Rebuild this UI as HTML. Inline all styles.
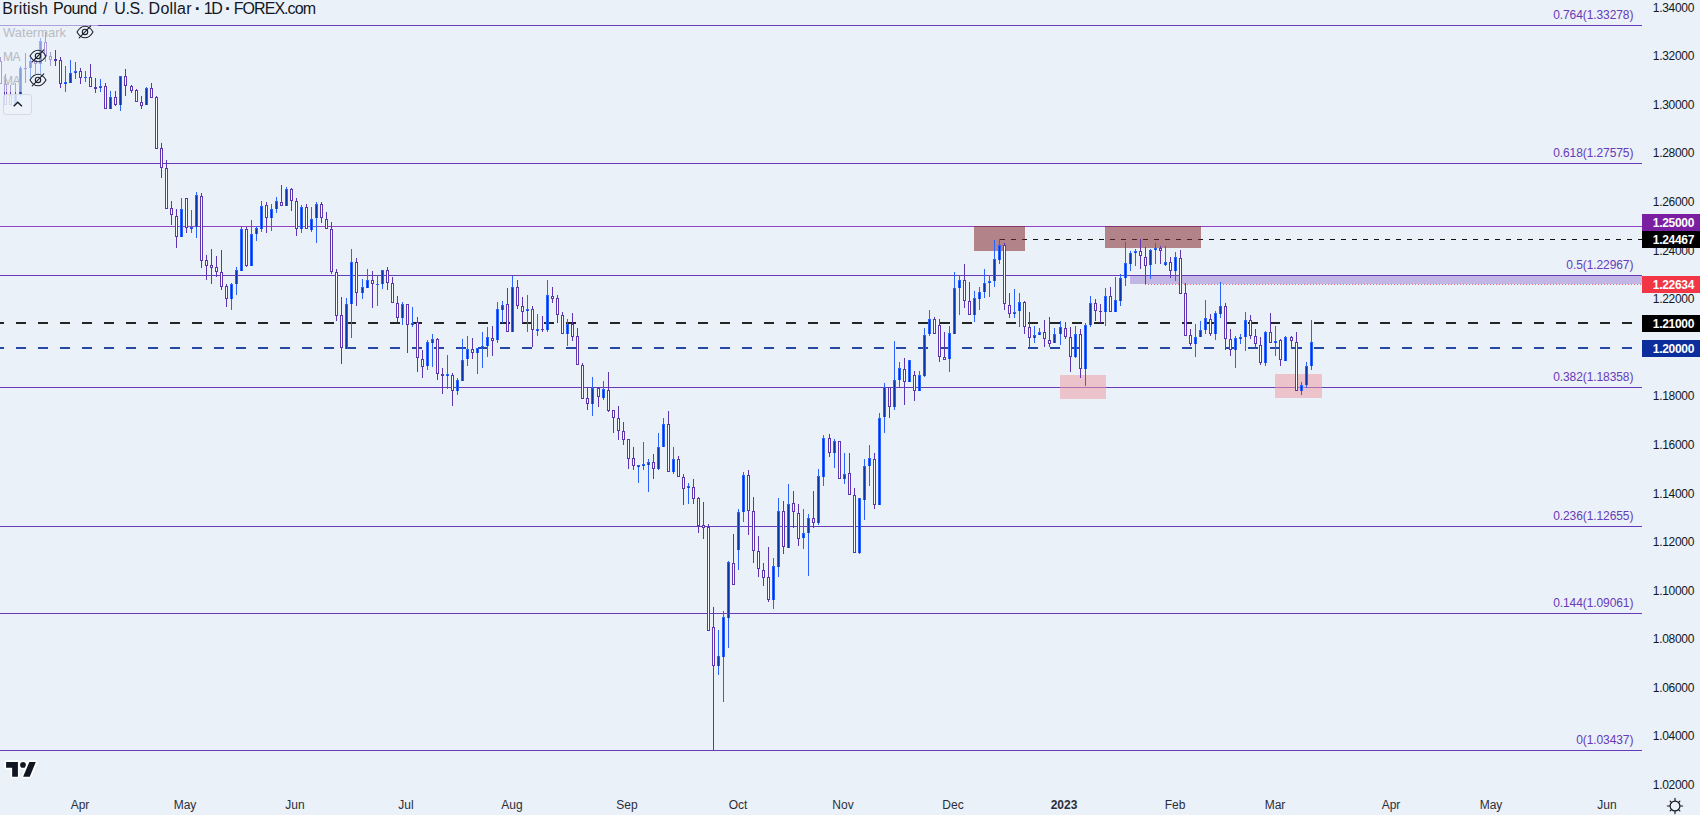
<!DOCTYPE html><html><head><meta charset="utf-8"><title>GBPUSD</title><style>
html,body{margin:0;padding:0}
body{width:1700px;height:815px;overflow:hidden;background:#eaf1f9;font-family:"Liberation Sans",sans-serif;position:relative;color:#131722}
.t{position:absolute;white-space:nowrap;line-height:1}
.fib{color:#673ab7;font-size:12px;text-align:right;width:200px;left:1433.300px;letter-spacing:-0.09px}
.ax{font-size:12px;left:1652.800px;color:#131722;letter-spacing:-0.3px}
.lab{position:absolute;left:1642px;width:58px;height:17px;color:#fff;font-size:12px;font-weight:bold;line-height:18.600px;text-indent:10.800px;overflow:hidden;letter-spacing:-0.3px}
.tm{font-size:12px;transform:translateX(-50%);top:798.8px;color:#2a2e39}
.lg{color:#b9bcc4;font-size:13px}
.lg2{font-size:12px;letter-spacing:-0.6px;color:#b4b7bf}

</style></head><body>
<svg width="1700" height="815" viewBox="0 0 1700 815" shape-rendering="crispEdges" style="position:absolute;left:0;top:0">
<rect x="1130" y="276" width="570" height="8" fill="#c2b6e4"/>
<line x1="1145" y1="284.5" x2="1700" y2="284.5" stroke="#f23645" stroke-width="1" stroke-dasharray="1 2" opacity="0.75"/>
<rect x="0" y="25" width="1642" height="1" fill="#673ab7"/>
<rect x="0" y="163" width="1642" height="1" fill="#673ab7"/>
<rect x="0" y="275" width="1642" height="1" fill="#673ab7"/>
<rect x="0" y="387" width="1642" height="1" fill="#673ab7"/>
<rect x="0" y="526" width="1642" height="1" fill="#673ab7"/>
<rect x="0" y="613" width="1642" height="1" fill="#673ab7"/>
<rect x="0" y="750" width="1642" height="1" fill="#673ab7"/>
<rect x="0" y="226" width="1642" height="1" fill="#9242c8"/>
<path d="M1000 239h5v1h-5zM1011 239h5v1h-5zM1022 239h5v1h-5zM1033 239h5v1h-5zM1044 239h5v1h-5zM1055 239h5v1h-5zM1066 239h5v1h-5zM1077 239h5v1h-5zM1088 239h5v1h-5zM1099 239h5v1h-5zM1110 239h5v1h-5zM1121 239h5v1h-5zM1132 239h5v1h-5zM1143 239h5v1h-5zM1154 239h5v1h-5zM1165 239h5v1h-5zM1176 239h5v1h-5zM1187 239h5v1h-5zM1198 239h5v1h-5zM1209 239h5v1h-5zM1220 239h5v1h-5zM1231 239h5v1h-5zM1242 239h5v1h-5zM1253 239h5v1h-5zM1264 239h5v1h-5zM1275 239h5v1h-5zM1286 239h5v1h-5zM1297 239h5v1h-5zM1308 239h5v1h-5zM1319 239h5v1h-5zM1330 239h5v1h-5zM1341 239h5v1h-5zM1352 239h5v1h-5zM1363 239h5v1h-5zM1374 239h5v1h-5zM1385 239h5v1h-5zM1396 239h5v1h-5zM1407 239h5v1h-5zM1418 239h5v1h-5zM1429 239h5v1h-5zM1440 239h5v1h-5zM1451 239h5v1h-5zM1462 239h5v1h-5zM1473 239h5v1h-5zM1484 239h5v1h-5zM1495 239h5v1h-5zM1506 239h5v1h-5zM1517 239h5v1h-5zM1528 239h5v1h-5zM1539 239h5v1h-5zM1550 239h5v1h-5zM1561 239h5v1h-5zM1572 239h5v1h-5zM1583 239h5v1h-5zM1594 239h5v1h-5zM1605 239h5v1h-5zM1616 239h5v1h-5zM1627 239h5v1h-5zM1638 239h4v1h-4z" fill="#111"/>
<rect x="974" y="226" width="51" height="25" fill="#84292f" fill-opacity="0.55"/>
<rect x="1105" y="226" width="96" height="22" fill="#84292f" fill-opacity="0.55"/>
<rect x="1060" y="375" width="46" height="24" fill="#ec9da5" fill-opacity="0.55"/>
<rect x="1275" y="374" width="47" height="24" fill="#ec9da5" fill-opacity="0.55"/>
<path d="M0 322h4v2h-4zM16 322h10v2h-10zM38 322h10v2h-10zM60 322h10v2h-10zM82 322h10v2h-10zM104 322h10v2h-10zM126 322h10v2h-10zM148 322h10v2h-10zM170 322h10v2h-10zM192 322h10v2h-10zM214 322h10v2h-10zM236 322h10v2h-10zM258 322h10v2h-10zM280 322h10v2h-10zM302 322h10v2h-10zM324 322h10v2h-10zM346 322h10v2h-10zM368 322h10v2h-10zM390 322h10v2h-10zM412 322h10v2h-10zM434 322h10v2h-10zM456 322h10v2h-10zM478 322h10v2h-10zM500 322h10v2h-10zM522 322h10v2h-10zM544 322h10v2h-10zM566 322h10v2h-10zM588 322h10v2h-10zM610 322h10v2h-10zM632 322h10v2h-10zM654 322h10v2h-10zM676 322h10v2h-10zM698 322h10v2h-10zM720 322h10v2h-10zM742 322h10v2h-10zM764 322h10v2h-10zM786 322h10v2h-10zM808 322h10v2h-10zM830 322h10v2h-10zM852 322h10v2h-10zM874 322h10v2h-10zM896 322h10v2h-10zM918 322h10v2h-10zM940 322h10v2h-10zM962 322h10v2h-10zM984 322h10v2h-10zM1006 322h10v2h-10zM1028 322h10v2h-10zM1050 322h10v2h-10zM1072 322h10v2h-10zM1094 322h10v2h-10zM1116 322h10v2h-10zM1138 322h10v2h-10zM1160 322h10v2h-10zM1182 322h10v2h-10zM1204 322h10v2h-10zM1226 322h10v2h-10zM1248 322h10v2h-10zM1270 322h10v2h-10zM1292 322h10v2h-10zM1314 322h10v2h-10zM1336 322h10v2h-10zM1358 322h10v2h-10zM1380 322h10v2h-10zM1402 322h10v2h-10zM1424 322h10v2h-10zM1446 322h10v2h-10zM1468 322h10v2h-10zM1490 322h10v2h-10zM1512 322h10v2h-10zM1534 322h10v2h-10zM1556 322h10v2h-10zM1578 322h10v2h-10zM1600 322h10v2h-10zM1622 322h10v2h-10z" fill="#242424"/>
<path d="M0 347h4v2h-4zM16 347h10v2h-10zM38 347h10v2h-10zM60 347h10v2h-10zM82 347h10v2h-10zM104 347h10v2h-10zM126 347h10v2h-10zM148 347h10v2h-10zM170 347h10v2h-10zM192 347h10v2h-10zM214 347h10v2h-10zM236 347h10v2h-10zM258 347h10v2h-10zM280 347h10v2h-10zM302 347h10v2h-10zM324 347h10v2h-10zM346 347h10v2h-10zM368 347h10v2h-10zM390 347h10v2h-10zM412 347h10v2h-10zM434 347h10v2h-10zM456 347h10v2h-10zM478 347h10v2h-10zM500 347h10v2h-10zM522 347h10v2h-10zM544 347h10v2h-10zM566 347h10v2h-10zM588 347h10v2h-10zM610 347h10v2h-10zM632 347h10v2h-10zM654 347h10v2h-10zM676 347h10v2h-10zM698 347h10v2h-10zM720 347h10v2h-10zM742 347h10v2h-10zM764 347h10v2h-10zM786 347h10v2h-10zM808 347h10v2h-10zM830 347h10v2h-10zM852 347h10v2h-10zM874 347h10v2h-10zM896 347h10v2h-10zM918 347h10v2h-10zM940 347h10v2h-10zM962 347h10v2h-10zM984 347h10v2h-10zM1006 347h10v2h-10zM1028 347h10v2h-10zM1050 347h10v2h-10zM1072 347h10v2h-10zM1094 347h10v2h-10zM1116 347h10v2h-10zM1138 347h10v2h-10zM1160 347h10v2h-10zM1182 347h10v2h-10zM1204 347h10v2h-10zM1226 347h10v2h-10zM1248 347h10v2h-10zM1270 347h10v2h-10zM1292 347h10v2h-10zM1314 347h10v2h-10zM1336 347h10v2h-10zM1358 347h10v2h-10zM1380 347h10v2h-10zM1402 347h10v2h-10zM1424 347h10v2h-10zM1446 347h10v2h-10zM1468 347h10v2h-10zM1490 347h10v2h-10zM1512 347h10v2h-10zM1534 347h10v2h-10zM1556 347h10v2h-10zM1578 347h10v2h-10zM1600 347h10v2h-10zM1622 347h10v2h-10z" fill="#2548a2"/>
<rect x="0" y="57" width="1" height="27" fill="#5e35b1"/>
<rect x="-1" y="61" width="3" height="23" fill="#5e35b1"/>
<rect x="0" y="62" width="1" height="21" fill="#fbfcff"/>
<rect x="5" y="74" width="1" height="31" fill="#5e35b1"/>
<rect x="4" y="84" width="3" height="21" fill="#5e35b1"/>
<rect x="5" y="85" width="1" height="19" fill="#fbfcff"/>
<rect x="10" y="85" width="1" height="20" fill="#5e35b1"/>
<rect x="9" y="95" width="3" height="10" fill="#5e35b1"/>
<rect x="10" y="96" width="1" height="8" fill="#fbfcff"/>
<rect x="15" y="83" width="1" height="21" fill="#2962ff"/>
<rect x="14" y="95" width="3" height="9" fill="#2962ff"/>
<rect x="15" y="96" width="1" height="8" fill="#0c35a8"/>
<rect x="20" y="66" width="1" height="31" fill="#2962ff"/>
<rect x="19" y="68" width="3" height="26" fill="#2962ff"/>
<rect x="20" y="69" width="1" height="25" fill="#0c35a8"/>
<rect x="25" y="53" width="1" height="30" fill="#5e35b1"/>
<rect x="24" y="68" width="3" height="1" fill="#5e35b1"/>
<rect x="30" y="57" width="1" height="21" fill="#2962ff"/>
<rect x="29" y="61" width="3" height="7" fill="#2962ff"/>
<rect x="30" y="62" width="1" height="6" fill="#0c35a8"/>
<rect x="35" y="57" width="1" height="17" fill="#5e35b1"/>
<rect x="34" y="60" width="3" height="4" fill="#5e35b1"/>
<rect x="35" y="61" width="1" height="2" fill="#fbfcff"/>
<rect x="40" y="38" width="1" height="36" fill="#2962ff"/>
<rect x="39" y="41" width="3" height="23" fill="#2962ff"/>
<rect x="40" y="42" width="1" height="22" fill="#0c35a8"/>
<rect x="45" y="32" width="1" height="30" fill="#5e35b1"/>
<rect x="44" y="42" width="3" height="14" fill="#5e35b1"/>
<rect x="45" y="43" width="1" height="12" fill="#fbfcff"/>
<rect x="50" y="52" width="1" height="14" fill="#5e35b1"/>
<rect x="49" y="56" width="3" height="4" fill="#5e35b1"/>
<rect x="50" y="57" width="1" height="2" fill="#fbfcff"/>
<rect x="55" y="50" width="1" height="16" fill="#5e35b1"/>
<rect x="54" y="59" width="3" height="2" fill="#5e35b1"/>
<rect x="60" y="57" width="1" height="31" fill="#5e35b1"/>
<rect x="59" y="60" width="3" height="24" fill="#5e35b1"/>
<rect x="60" y="61" width="1" height="22" fill="#fbfcff"/>
<rect x="65" y="66" width="1" height="26" fill="#2962ff"/>
<rect x="64" y="82" width="3" height="2" fill="#2962ff"/>
<rect x="65" y="83" width="1" height="1" fill="#0c35a8"/>
<rect x="70" y="60" width="1" height="23" fill="#2962ff"/>
<rect x="69" y="73" width="3" height="10" fill="#2962ff"/>
<rect x="70" y="74" width="1" height="9" fill="#0c35a8"/>
<rect x="75" y="62" width="1" height="17" fill="#2962ff"/>
<rect x="74" y="71" width="3" height="2" fill="#2962ff"/>
<rect x="75" y="72" width="1" height="1" fill="#0c35a8"/>
<rect x="80" y="68" width="1" height="16" fill="#5e35b1"/>
<rect x="79" y="71" width="3" height="7" fill="#5e35b1"/>
<rect x="80" y="72" width="1" height="5" fill="#fbfcff"/>
<rect x="85" y="71" width="1" height="11" fill="#2962ff"/>
<rect x="84" y="77" width="3" height="1" fill="#2962ff"/>
<rect x="90" y="64" width="1" height="23" fill="#5e35b1"/>
<rect x="89" y="77" width="3" height="10" fill="#5e35b1"/>
<rect x="90" y="78" width="1" height="8" fill="#fbfcff"/>
<rect x="95" y="78" width="1" height="15" fill="#5e35b1"/>
<rect x="94" y="87" width="3" height="2" fill="#5e35b1"/>
<rect x="100" y="79" width="1" height="13" fill="#2962ff"/>
<rect x="99" y="86" width="3" height="2" fill="#2962ff"/>
<rect x="100" y="87" width="1" height="1" fill="#0c35a8"/>
<rect x="105" y="83" width="1" height="26" fill="#5e35b1"/>
<rect x="104" y="86" width="3" height="23" fill="#5e35b1"/>
<rect x="105" y="87" width="1" height="21" fill="#fbfcff"/>
<rect x="110" y="91" width="1" height="18" fill="#2962ff"/>
<rect x="109" y="97" width="3" height="12" fill="#2962ff"/>
<rect x="110" y="98" width="1" height="11" fill="#0c35a8"/>
<rect x="115" y="91" width="1" height="15" fill="#5e35b1"/>
<rect x="114" y="97" width="3" height="8" fill="#5e35b1"/>
<rect x="115" y="98" width="1" height="6" fill="#fbfcff"/>
<rect x="120" y="76" width="1" height="35" fill="#2962ff"/>
<rect x="119" y="76" width="3" height="29" fill="#2962ff"/>
<rect x="120" y="77" width="1" height="28" fill="#0c35a8"/>
<rect x="125" y="69" width="1" height="27" fill="#5e35b1"/>
<rect x="124" y="76" width="3" height="10" fill="#5e35b1"/>
<rect x="125" y="77" width="1" height="8" fill="#fbfcff"/>
<rect x="131" y="85" width="1" height="8" fill="#5e35b1"/>
<rect x="130" y="86" width="3" height="5" fill="#5e35b1"/>
<rect x="131" y="87" width="1" height="3" fill="#fbfcff"/>
<rect x="136" y="89" width="1" height="13" fill="#5e35b1"/>
<rect x="135" y="90" width="3" height="12" fill="#5e35b1"/>
<rect x="136" y="91" width="1" height="10" fill="#fbfcff"/>
<rect x="141" y="96" width="1" height="13" fill="#5e35b1"/>
<rect x="140" y="102" width="3" height="4" fill="#5e35b1"/>
<rect x="141" y="103" width="1" height="2" fill="#fbfcff"/>
<rect x="146" y="87" width="1" height="18" fill="#2962ff"/>
<rect x="145" y="88" width="3" height="17" fill="#2962ff"/>
<rect x="146" y="89" width="1" height="16" fill="#0c35a8"/>
<rect x="151" y="83" width="1" height="15" fill="#5e35b1"/>
<rect x="150" y="88" width="3" height="10" fill="#5e35b1"/>
<rect x="151" y="89" width="1" height="8" fill="#fbfcff"/>
<rect x="156" y="96" width="1" height="53" fill="#5e35b1"/>
<rect x="155" y="97" width="3" height="52" fill="#5e35b1"/>
<rect x="156" y="98" width="1" height="50" fill="#fbfcff"/>
<rect x="161" y="143" width="1" height="35" fill="#5e35b1"/>
<rect x="160" y="148" width="3" height="20" fill="#5e35b1"/>
<rect x="161" y="149" width="1" height="18" fill="#fbfcff"/>
<rect x="166" y="160" width="1" height="49" fill="#5e35b1"/>
<rect x="165" y="168" width="3" height="41" fill="#5e35b1"/>
<rect x="166" y="169" width="1" height="39" fill="#fbfcff"/>
<rect x="171" y="201" width="1" height="24" fill="#5e35b1"/>
<rect x="170" y="208" width="3" height="7" fill="#5e35b1"/>
<rect x="171" y="209" width="1" height="5" fill="#fbfcff"/>
<rect x="176" y="209" width="1" height="39" fill="#5e35b1"/>
<rect x="175" y="216" width="3" height="21" fill="#5e35b1"/>
<rect x="176" y="217" width="1" height="19" fill="#fbfcff"/>
<rect x="181" y="198" width="1" height="39" fill="#2962ff"/>
<rect x="180" y="209" width="3" height="28" fill="#2962ff"/>
<rect x="181" y="210" width="1" height="27" fill="#0c35a8"/>
<rect x="186" y="198" width="1" height="35" fill="#5e35b1"/>
<rect x="185" y="198" width="3" height="30" fill="#5e35b1"/>
<rect x="186" y="199" width="1" height="28" fill="#fbfcff"/>
<rect x="191" y="210" width="1" height="23" fill="#2962ff"/>
<rect x="190" y="227" width="3" height="2" fill="#2962ff"/>
<rect x="191" y="228" width="1" height="1" fill="#0c35a8"/>
<rect x="196" y="192" width="1" height="46" fill="#2962ff"/>
<rect x="195" y="195" width="3" height="32" fill="#2962ff"/>
<rect x="196" y="196" width="1" height="31" fill="#0c35a8"/>
<rect x="201" y="193" width="1" height="75" fill="#5e35b1"/>
<rect x="200" y="196" width="3" height="65" fill="#5e35b1"/>
<rect x="201" y="197" width="1" height="63" fill="#fbfcff"/>
<rect x="206" y="255" width="1" height="25" fill="#5e35b1"/>
<rect x="205" y="260" width="3" height="6" fill="#5e35b1"/>
<rect x="206" y="261" width="1" height="4" fill="#fbfcff"/>
<rect x="211" y="249" width="1" height="35" fill="#5e35b1"/>
<rect x="210" y="265" width="3" height="3" fill="#5e35b1"/>
<rect x="211" y="266" width="1" height="1" fill="#fbfcff"/>
<rect x="216" y="256" width="1" height="21" fill="#5e35b1"/>
<rect x="215" y="267" width="3" height="5" fill="#5e35b1"/>
<rect x="216" y="268" width="1" height="3" fill="#fbfcff"/>
<rect x="221" y="250" width="1" height="40" fill="#5e35b1"/>
<rect x="220" y="272" width="3" height="15" fill="#5e35b1"/>
<rect x="221" y="273" width="1" height="13" fill="#fbfcff"/>
<rect x="226" y="284" width="1" height="23" fill="#5e35b1"/>
<rect x="225" y="286" width="3" height="13" fill="#5e35b1"/>
<rect x="226" y="287" width="1" height="11" fill="#fbfcff"/>
<rect x="231" y="283" width="1" height="27" fill="#2962ff"/>
<rect x="230" y="284" width="3" height="15" fill="#2962ff"/>
<rect x="231" y="285" width="1" height="14" fill="#0c35a8"/>
<rect x="236" y="267" width="1" height="28" fill="#2962ff"/>
<rect x="235" y="270" width="3" height="14" fill="#2962ff"/>
<rect x="236" y="271" width="1" height="13" fill="#0c35a8"/>
<rect x="241" y="226" width="1" height="45" fill="#2962ff"/>
<rect x="240" y="229" width="3" height="42" fill="#2962ff"/>
<rect x="241" y="230" width="1" height="41" fill="#0c35a8"/>
<rect x="246" y="227" width="1" height="40" fill="#5e35b1"/>
<rect x="245" y="229" width="3" height="37" fill="#5e35b1"/>
<rect x="246" y="230" width="1" height="35" fill="#fbfcff"/>
<rect x="251" y="220" width="1" height="46" fill="#2962ff"/>
<rect x="250" y="234" width="3" height="32" fill="#2962ff"/>
<rect x="251" y="235" width="1" height="31" fill="#0c35a8"/>
<rect x="256" y="226" width="1" height="15" fill="#2962ff"/>
<rect x="255" y="228" width="3" height="6" fill="#2962ff"/>
<rect x="256" y="229" width="1" height="5" fill="#0c35a8"/>
<rect x="261" y="201" width="1" height="31" fill="#2962ff"/>
<rect x="260" y="206" width="3" height="23" fill="#2962ff"/>
<rect x="261" y="207" width="1" height="22" fill="#0c35a8"/>
<rect x="266" y="202" width="1" height="31" fill="#5e35b1"/>
<rect x="265" y="205" width="3" height="13" fill="#5e35b1"/>
<rect x="266" y="206" width="1" height="11" fill="#fbfcff"/>
<rect x="271" y="204" width="1" height="27" fill="#2962ff"/>
<rect x="270" y="209" width="3" height="9" fill="#2962ff"/>
<rect x="271" y="210" width="1" height="8" fill="#0c35a8"/>
<rect x="276" y="197" width="1" height="16" fill="#2962ff"/>
<rect x="275" y="201" width="3" height="8" fill="#2962ff"/>
<rect x="276" y="202" width="1" height="7" fill="#0c35a8"/>
<rect x="281" y="185" width="1" height="21" fill="#5e35b1"/>
<rect x="280" y="202" width="3" height="4" fill="#5e35b1"/>
<rect x="281" y="203" width="1" height="2" fill="#fbfcff"/>
<rect x="286" y="187" width="1" height="19" fill="#2962ff"/>
<rect x="285" y="189" width="3" height="17" fill="#2962ff"/>
<rect x="286" y="190" width="1" height="16" fill="#0c35a8"/>
<rect x="291" y="188" width="1" height="23" fill="#5e35b1"/>
<rect x="290" y="189" width="3" height="12" fill="#5e35b1"/>
<rect x="291" y="190" width="1" height="10" fill="#fbfcff"/>
<rect x="296" y="198" width="1" height="38" fill="#5e35b1"/>
<rect x="295" y="201" width="3" height="28" fill="#5e35b1"/>
<rect x="296" y="202" width="1" height="26" fill="#fbfcff"/>
<rect x="301" y="205" width="1" height="28" fill="#2962ff"/>
<rect x="300" y="207" width="3" height="22" fill="#2962ff"/>
<rect x="301" y="208" width="1" height="21" fill="#0c35a8"/>
<rect x="306" y="204" width="1" height="25" fill="#5e35b1"/>
<rect x="305" y="207" width="3" height="22" fill="#5e35b1"/>
<rect x="306" y="208" width="1" height="20" fill="#fbfcff"/>
<rect x="311" y="207" width="1" height="25" fill="#2962ff"/>
<rect x="310" y="219" width="3" height="11" fill="#2962ff"/>
<rect x="311" y="220" width="1" height="10" fill="#0c35a8"/>
<rect x="316" y="202" width="1" height="41" fill="#2962ff"/>
<rect x="315" y="204" width="3" height="14" fill="#2962ff"/>
<rect x="316" y="205" width="1" height="13" fill="#0c35a8"/>
<rect x="321" y="202" width="1" height="21" fill="#5e35b1"/>
<rect x="320" y="204" width="3" height="14" fill="#5e35b1"/>
<rect x="321" y="205" width="1" height="12" fill="#fbfcff"/>
<rect x="326" y="212" width="1" height="17" fill="#5e35b1"/>
<rect x="325" y="219" width="3" height="10" fill="#5e35b1"/>
<rect x="326" y="220" width="1" height="8" fill="#fbfcff"/>
<rect x="331" y="222" width="1" height="52" fill="#5e35b1"/>
<rect x="330" y="229" width="3" height="43" fill="#5e35b1"/>
<rect x="331" y="230" width="1" height="41" fill="#fbfcff"/>
<rect x="336" y="269" width="1" height="52" fill="#5e35b1"/>
<rect x="335" y="272" width="3" height="44" fill="#5e35b1"/>
<rect x="336" y="273" width="1" height="42" fill="#fbfcff"/>
<rect x="341" y="297" width="1" height="67" fill="#5e35b1"/>
<rect x="340" y="315" width="3" height="33" fill="#5e35b1"/>
<rect x="341" y="316" width="1" height="31" fill="#fbfcff"/>
<rect x="346" y="298" width="1" height="51" fill="#2962ff"/>
<rect x="345" y="304" width="3" height="45" fill="#2962ff"/>
<rect x="346" y="305" width="1" height="44" fill="#0c35a8"/>
<rect x="351" y="249" width="1" height="89" fill="#2962ff"/>
<rect x="350" y="262" width="3" height="42" fill="#2962ff"/>
<rect x="351" y="263" width="1" height="41" fill="#0c35a8"/>
<rect x="356" y="258" width="1" height="48" fill="#5e35b1"/>
<rect x="355" y="262" width="3" height="31" fill="#5e35b1"/>
<rect x="356" y="263" width="1" height="29" fill="#fbfcff"/>
<rect x="362" y="279" width="1" height="20" fill="#2962ff"/>
<rect x="361" y="287" width="3" height="6" fill="#2962ff"/>
<rect x="362" y="288" width="1" height="5" fill="#0c35a8"/>
<rect x="367" y="269" width="1" height="19" fill="#2962ff"/>
<rect x="366" y="280" width="3" height="8" fill="#2962ff"/>
<rect x="367" y="281" width="1" height="7" fill="#0c35a8"/>
<rect x="372" y="271" width="1" height="37" fill="#5e35b1"/>
<rect x="371" y="280" width="3" height="4" fill="#5e35b1"/>
<rect x="372" y="281" width="1" height="2" fill="#fbfcff"/>
<rect x="377" y="276" width="1" height="30" fill="#2962ff"/>
<rect x="376" y="284" width="3" height="1" fill="#2962ff"/>
<rect x="382" y="270" width="1" height="19" fill="#2962ff"/>
<rect x="381" y="270" width="3" height="14" fill="#2962ff"/>
<rect x="382" y="271" width="1" height="13" fill="#0c35a8"/>
<rect x="387" y="267" width="1" height="23" fill="#5e35b1"/>
<rect x="386" y="270" width="3" height="13" fill="#5e35b1"/>
<rect x="387" y="271" width="1" height="11" fill="#fbfcff"/>
<rect x="392" y="277" width="1" height="26" fill="#5e35b1"/>
<rect x="391" y="283" width="3" height="20" fill="#5e35b1"/>
<rect x="392" y="284" width="1" height="18" fill="#fbfcff"/>
<rect x="397" y="296" width="1" height="26" fill="#5e35b1"/>
<rect x="396" y="303" width="3" height="15" fill="#5e35b1"/>
<rect x="397" y="304" width="1" height="13" fill="#fbfcff"/>
<rect x="402" y="302" width="1" height="23" fill="#2962ff"/>
<rect x="401" y="304" width="3" height="14" fill="#2962ff"/>
<rect x="402" y="305" width="1" height="13" fill="#0c35a8"/>
<rect x="407" y="304" width="1" height="49" fill="#5e35b1"/>
<rect x="406" y="304" width="3" height="21" fill="#5e35b1"/>
<rect x="407" y="305" width="1" height="19" fill="#fbfcff"/>
<rect x="412" y="307" width="1" height="20" fill="#2962ff"/>
<rect x="411" y="323" width="3" height="2" fill="#2962ff"/>
<rect x="412" y="324" width="1" height="1" fill="#0c35a8"/>
<rect x="417" y="317" width="1" height="55" fill="#5e35b1"/>
<rect x="416" y="322" width="3" height="36" fill="#5e35b1"/>
<rect x="417" y="323" width="1" height="34" fill="#fbfcff"/>
<rect x="422" y="350" width="1" height="28" fill="#5e35b1"/>
<rect x="421" y="359" width="3" height="8" fill="#5e35b1"/>
<rect x="422" y="360" width="1" height="6" fill="#fbfcff"/>
<rect x="427" y="340" width="1" height="30" fill="#2962ff"/>
<rect x="426" y="342" width="3" height="24" fill="#2962ff"/>
<rect x="427" y="343" width="1" height="23" fill="#0c35a8"/>
<rect x="432" y="334" width="1" height="33" fill="#2962ff"/>
<rect x="431" y="339" width="3" height="4" fill="#2962ff"/>
<rect x="432" y="340" width="1" height="3" fill="#0c35a8"/>
<rect x="437" y="338" width="1" height="42" fill="#5e35b1"/>
<rect x="436" y="339" width="3" height="35" fill="#5e35b1"/>
<rect x="437" y="340" width="1" height="33" fill="#fbfcff"/>
<rect x="442" y="368" width="1" height="26" fill="#5e35b1"/>
<rect x="441" y="374" width="3" height="2" fill="#5e35b1"/>
<rect x="447" y="355" width="1" height="34" fill="#2962ff"/>
<rect x="446" y="374" width="3" height="2" fill="#2962ff"/>
<rect x="447" y="375" width="1" height="1" fill="#0c35a8"/>
<rect x="452" y="373" width="1" height="33" fill="#5e35b1"/>
<rect x="451" y="375" width="3" height="16" fill="#5e35b1"/>
<rect x="452" y="376" width="1" height="14" fill="#fbfcff"/>
<rect x="457" y="378" width="1" height="17" fill="#2962ff"/>
<rect x="456" y="380" width="3" height="11" fill="#2962ff"/>
<rect x="457" y="381" width="1" height="10" fill="#0c35a8"/>
<rect x="462" y="339" width="1" height="42" fill="#2962ff"/>
<rect x="461" y="360" width="3" height="21" fill="#2962ff"/>
<rect x="462" y="361" width="1" height="20" fill="#0c35a8"/>
<rect x="467" y="336" width="1" height="30" fill="#2962ff"/>
<rect x="466" y="349" width="3" height="10" fill="#2962ff"/>
<rect x="467" y="350" width="1" height="9" fill="#0c35a8"/>
<rect x="472" y="338" width="1" height="21" fill="#5e35b1"/>
<rect x="471" y="349" width="3" height="4" fill="#5e35b1"/>
<rect x="472" y="350" width="1" height="2" fill="#fbfcff"/>
<rect x="477" y="348" width="1" height="26" fill="#2962ff"/>
<rect x="476" y="348" width="3" height="5" fill="#2962ff"/>
<rect x="477" y="349" width="1" height="4" fill="#0c35a8"/>
<rect x="482" y="332" width="1" height="36" fill="#2962ff"/>
<rect x="481" y="346" width="3" height="2" fill="#2962ff"/>
<rect x="482" y="347" width="1" height="1" fill="#0c35a8"/>
<rect x="487" y="327" width="1" height="30" fill="#2962ff"/>
<rect x="486" y="337" width="3" height="9" fill="#2962ff"/>
<rect x="487" y="338" width="1" height="8" fill="#0c35a8"/>
<rect x="492" y="326" width="1" height="30" fill="#5e35b1"/>
<rect x="491" y="338" width="3" height="3" fill="#5e35b1"/>
<rect x="492" y="339" width="1" height="1" fill="#fbfcff"/>
<rect x="497" y="302" width="1" height="41" fill="#2962ff"/>
<rect x="496" y="309" width="3" height="31" fill="#2962ff"/>
<rect x="497" y="310" width="1" height="30" fill="#0c35a8"/>
<rect x="502" y="301" width="1" height="22" fill="#2962ff"/>
<rect x="501" y="305" width="3" height="5" fill="#2962ff"/>
<rect x="502" y="306" width="1" height="4" fill="#0c35a8"/>
<rect x="507" y="288" width="1" height="44" fill="#5e35b1"/>
<rect x="506" y="304" width="3" height="28" fill="#5e35b1"/>
<rect x="507" y="305" width="1" height="26" fill="#fbfcff"/>
<rect x="512" y="276" width="1" height="56" fill="#2962ff"/>
<rect x="511" y="287" width="3" height="45" fill="#2962ff"/>
<rect x="512" y="288" width="1" height="44" fill="#0c35a8"/>
<rect x="517" y="280" width="1" height="29" fill="#5e35b1"/>
<rect x="516" y="287" width="3" height="19" fill="#5e35b1"/>
<rect x="517" y="288" width="1" height="17" fill="#fbfcff"/>
<rect x="522" y="297" width="1" height="26" fill="#5e35b1"/>
<rect x="521" y="306" width="3" height="6" fill="#5e35b1"/>
<rect x="522" y="307" width="1" height="4" fill="#fbfcff"/>
<rect x="527" y="295" width="1" height="37" fill="#2962ff"/>
<rect x="526" y="309" width="3" height="2" fill="#2962ff"/>
<rect x="527" y="310" width="1" height="1" fill="#0c35a8"/>
<rect x="532" y="306" width="1" height="41" fill="#5e35b1"/>
<rect x="531" y="309" width="3" height="21" fill="#5e35b1"/>
<rect x="532" y="310" width="1" height="19" fill="#fbfcff"/>
<rect x="537" y="314" width="1" height="22" fill="#2962ff"/>
<rect x="536" y="329" width="3" height="2" fill="#2962ff"/>
<rect x="537" y="330" width="1" height="1" fill="#0c35a8"/>
<rect x="542" y="316" width="1" height="16" fill="#5e35b1"/>
<rect x="541" y="329" width="3" height="1" fill="#5e35b1"/>
<rect x="547" y="280" width="1" height="52" fill="#2962ff"/>
<rect x="546" y="295" width="3" height="35" fill="#2962ff"/>
<rect x="547" y="296" width="1" height="34" fill="#0c35a8"/>
<rect x="552" y="287" width="1" height="16" fill="#5e35b1"/>
<rect x="551" y="296" width="3" height="3" fill="#5e35b1"/>
<rect x="552" y="297" width="1" height="1" fill="#fbfcff"/>
<rect x="557" y="295" width="1" height="28" fill="#5e35b1"/>
<rect x="556" y="298" width="3" height="17" fill="#5e35b1"/>
<rect x="557" y="299" width="1" height="15" fill="#fbfcff"/>
<rect x="562" y="312" width="1" height="22" fill="#5e35b1"/>
<rect x="561" y="315" width="3" height="19" fill="#5e35b1"/>
<rect x="562" y="316" width="1" height="17" fill="#fbfcff"/>
<rect x="567" y="319" width="1" height="27" fill="#2962ff"/>
<rect x="566" y="324" width="3" height="10" fill="#2962ff"/>
<rect x="567" y="325" width="1" height="9" fill="#0c35a8"/>
<rect x="572" y="313" width="1" height="28" fill="#5e35b1"/>
<rect x="571" y="324" width="3" height="13" fill="#5e35b1"/>
<rect x="572" y="325" width="1" height="11" fill="#fbfcff"/>
<rect x="577" y="328" width="1" height="37" fill="#5e35b1"/>
<rect x="576" y="336" width="3" height="29" fill="#5e35b1"/>
<rect x="577" y="337" width="1" height="27" fill="#fbfcff"/>
<rect x="582" y="363" width="1" height="36" fill="#5e35b1"/>
<rect x="581" y="365" width="3" height="34" fill="#5e35b1"/>
<rect x="582" y="366" width="1" height="32" fill="#fbfcff"/>
<rect x="587" y="387" width="1" height="23" fill="#5e35b1"/>
<rect x="586" y="398" width="3" height="6" fill="#5e35b1"/>
<rect x="587" y="399" width="1" height="4" fill="#fbfcff"/>
<rect x="592" y="377" width="1" height="39" fill="#2962ff"/>
<rect x="591" y="388" width="3" height="16" fill="#2962ff"/>
<rect x="592" y="389" width="1" height="15" fill="#0c35a8"/>
<rect x="598" y="387" width="1" height="20" fill="#5e35b1"/>
<rect x="597" y="388" width="3" height="9" fill="#5e35b1"/>
<rect x="598" y="389" width="1" height="7" fill="#fbfcff"/>
<rect x="603" y="381" width="1" height="19" fill="#2962ff"/>
<rect x="602" y="389" width="3" height="9" fill="#2962ff"/>
<rect x="603" y="390" width="1" height="8" fill="#0c35a8"/>
<rect x="608" y="372" width="1" height="40" fill="#5e35b1"/>
<rect x="607" y="390" width="3" height="21" fill="#5e35b1"/>
<rect x="608" y="391" width="1" height="19" fill="#fbfcff"/>
<rect x="613" y="410" width="1" height="23" fill="#5e35b1"/>
<rect x="612" y="410" width="3" height="8" fill="#5e35b1"/>
<rect x="613" y="411" width="1" height="6" fill="#fbfcff"/>
<rect x="618" y="406" width="1" height="34" fill="#5e35b1"/>
<rect x="617" y="418" width="3" height="13" fill="#5e35b1"/>
<rect x="618" y="419" width="1" height="11" fill="#fbfcff"/>
<rect x="623" y="422" width="1" height="23" fill="#5e35b1"/>
<rect x="622" y="431" width="3" height="9" fill="#5e35b1"/>
<rect x="623" y="432" width="1" height="7" fill="#fbfcff"/>
<rect x="628" y="439" width="1" height="30" fill="#5e35b1"/>
<rect x="627" y="439" width="3" height="20" fill="#5e35b1"/>
<rect x="628" y="440" width="1" height="18" fill="#fbfcff"/>
<rect x="633" y="447" width="1" height="23" fill="#5e35b1"/>
<rect x="632" y="458" width="3" height="8" fill="#5e35b1"/>
<rect x="633" y="459" width="1" height="6" fill="#fbfcff"/>
<rect x="638" y="465" width="1" height="18" fill="#2962ff"/>
<rect x="637" y="465" width="3" height="2" fill="#2962ff"/>
<rect x="638" y="466" width="1" height="1" fill="#0c35a8"/>
<rect x="643" y="442" width="1" height="28" fill="#2962ff"/>
<rect x="642" y="464" width="3" height="2" fill="#2962ff"/>
<rect x="643" y="465" width="1" height="1" fill="#0c35a8"/>
<rect x="648" y="459" width="1" height="33" fill="#2962ff"/>
<rect x="647" y="462" width="3" height="3" fill="#2962ff"/>
<rect x="648" y="463" width="1" height="2" fill="#0c35a8"/>
<rect x="653" y="454" width="1" height="25" fill="#5e35b1"/>
<rect x="652" y="462" width="3" height="7" fill="#5e35b1"/>
<rect x="653" y="463" width="1" height="5" fill="#fbfcff"/>
<rect x="658" y="433" width="1" height="37" fill="#2962ff"/>
<rect x="657" y="447" width="3" height="22" fill="#2962ff"/>
<rect x="658" y="448" width="1" height="21" fill="#0c35a8"/>
<rect x="663" y="418" width="1" height="29" fill="#2962ff"/>
<rect x="662" y="424" width="3" height="23" fill="#2962ff"/>
<rect x="663" y="425" width="1" height="22" fill="#0c35a8"/>
<rect x="668" y="411" width="1" height="61" fill="#5e35b1"/>
<rect x="667" y="424" width="3" height="48" fill="#5e35b1"/>
<rect x="668" y="425" width="1" height="46" fill="#fbfcff"/>
<rect x="673" y="447" width="1" height="27" fill="#2962ff"/>
<rect x="672" y="459" width="3" height="13" fill="#2962ff"/>
<rect x="673" y="460" width="1" height="12" fill="#0c35a8"/>
<rect x="678" y="456" width="1" height="21" fill="#5e35b1"/>
<rect x="677" y="459" width="3" height="18" fill="#5e35b1"/>
<rect x="678" y="460" width="1" height="16" fill="#fbfcff"/>
<rect x="683" y="474" width="1" height="31" fill="#5e35b1"/>
<rect x="682" y="477" width="3" height="12" fill="#5e35b1"/>
<rect x="683" y="478" width="1" height="10" fill="#fbfcff"/>
<rect x="688" y="483" width="1" height="21" fill="#2962ff"/>
<rect x="687" y="486" width="3" height="2" fill="#2962ff"/>
<rect x="688" y="487" width="1" height="1" fill="#0c35a8"/>
<rect x="693" y="479" width="1" height="25" fill="#5e35b1"/>
<rect x="692" y="487" width="3" height="12" fill="#5e35b1"/>
<rect x="693" y="488" width="1" height="10" fill="#fbfcff"/>
<rect x="698" y="497" width="1" height="36" fill="#5e35b1"/>
<rect x="697" y="498" width="3" height="28" fill="#5e35b1"/>
<rect x="698" y="499" width="1" height="26" fill="#fbfcff"/>
<rect x="703" y="502" width="1" height="37" fill="#5e35b1"/>
<rect x="702" y="525" width="3" height="3" fill="#5e35b1"/>
<rect x="703" y="526" width="1" height="1" fill="#fbfcff"/>
<rect x="708" y="524" width="1" height="107" fill="#5e35b1"/>
<rect x="707" y="527" width="3" height="104" fill="#5e35b1"/>
<rect x="708" y="528" width="1" height="102" fill="#fbfcff"/>
<rect x="713" y="607" width="1" height="143" fill="#5e35b1"/>
<rect x="712" y="627" width="3" height="39" fill="#5e35b1"/>
<rect x="713" y="628" width="1" height="37" fill="#fbfcff"/>
<rect x="718" y="630" width="1" height="45" fill="#2962ff"/>
<rect x="717" y="656" width="3" height="10" fill="#2962ff"/>
<rect x="718" y="657" width="1" height="9" fill="#0c35a8"/>
<rect x="723" y="611" width="1" height="91" fill="#2962ff"/>
<rect x="722" y="617" width="3" height="40" fill="#2962ff"/>
<rect x="723" y="618" width="1" height="39" fill="#0c35a8"/>
<rect x="728" y="561" width="1" height="87" fill="#2962ff"/>
<rect x="727" y="562" width="3" height="56" fill="#2962ff"/>
<rect x="728" y="563" width="1" height="55" fill="#0c35a8"/>
<rect x="733" y="534" width="1" height="51" fill="#5e35b1"/>
<rect x="732" y="563" width="3" height="22" fill="#5e35b1"/>
<rect x="733" y="564" width="1" height="20" fill="#fbfcff"/>
<rect x="738" y="509" width="1" height="61" fill="#2962ff"/>
<rect x="737" y="512" width="3" height="38" fill="#2962ff"/>
<rect x="738" y="513" width="1" height="37" fill="#0c35a8"/>
<rect x="743" y="472" width="1" height="50" fill="#2962ff"/>
<rect x="742" y="475" width="3" height="37" fill="#2962ff"/>
<rect x="743" y="476" width="1" height="36" fill="#0c35a8"/>
<rect x="748" y="470" width="1" height="65" fill="#5e35b1"/>
<rect x="747" y="475" width="3" height="36" fill="#5e35b1"/>
<rect x="748" y="476" width="1" height="34" fill="#fbfcff"/>
<rect x="753" y="497" width="1" height="66" fill="#5e35b1"/>
<rect x="752" y="511" width="3" height="40" fill="#5e35b1"/>
<rect x="753" y="512" width="1" height="38" fill="#fbfcff"/>
<rect x="758" y="536" width="1" height="41" fill="#5e35b1"/>
<rect x="757" y="551" width="3" height="18" fill="#5e35b1"/>
<rect x="758" y="552" width="1" height="16" fill="#fbfcff"/>
<rect x="763" y="563" width="1" height="23" fill="#5e35b1"/>
<rect x="762" y="570" width="3" height="8" fill="#5e35b1"/>
<rect x="763" y="571" width="1" height="6" fill="#fbfcff"/>
<rect x="768" y="547" width="1" height="55" fill="#5e35b1"/>
<rect x="767" y="577" width="3" height="23" fill="#5e35b1"/>
<rect x="768" y="578" width="1" height="21" fill="#fbfcff"/>
<rect x="773" y="558" width="1" height="51" fill="#2962ff"/>
<rect x="772" y="566" width="3" height="34" fill="#2962ff"/>
<rect x="773" y="567" width="1" height="33" fill="#0c35a8"/>
<rect x="778" y="498" width="1" height="79" fill="#2962ff"/>
<rect x="777" y="511" width="3" height="56" fill="#2962ff"/>
<rect x="778" y="512" width="1" height="55" fill="#0c35a8"/>
<rect x="783" y="501" width="1" height="53" fill="#5e35b1"/>
<rect x="782" y="511" width="3" height="36" fill="#5e35b1"/>
<rect x="783" y="512" width="1" height="34" fill="#fbfcff"/>
<rect x="788" y="484" width="1" height="64" fill="#2962ff"/>
<rect x="787" y="504" width="3" height="44" fill="#2962ff"/>
<rect x="788" y="505" width="1" height="43" fill="#0c35a8"/>
<rect x="793" y="491" width="1" height="37" fill="#5e35b1"/>
<rect x="792" y="503" width="3" height="9" fill="#5e35b1"/>
<rect x="793" y="504" width="1" height="7" fill="#fbfcff"/>
<rect x="798" y="504" width="1" height="42" fill="#5e35b1"/>
<rect x="797" y="513" width="3" height="26" fill="#5e35b1"/>
<rect x="798" y="514" width="1" height="24" fill="#fbfcff"/>
<rect x="803" y="509" width="1" height="40" fill="#2962ff"/>
<rect x="802" y="533" width="3" height="5" fill="#2962ff"/>
<rect x="803" y="534" width="1" height="4" fill="#0c35a8"/>
<rect x="808" y="514" width="1" height="62" fill="#2962ff"/>
<rect x="807" y="518" width="3" height="15" fill="#2962ff"/>
<rect x="808" y="519" width="1" height="14" fill="#0c35a8"/>
<rect x="813" y="491" width="1" height="37" fill="#5e35b1"/>
<rect x="812" y="518" width="3" height="5" fill="#5e35b1"/>
<rect x="813" y="519" width="1" height="3" fill="#fbfcff"/>
<rect x="818" y="469" width="1" height="56" fill="#2962ff"/>
<rect x="817" y="476" width="3" height="47" fill="#2962ff"/>
<rect x="818" y="477" width="1" height="46" fill="#0c35a8"/>
<rect x="823" y="435" width="1" height="51" fill="#2962ff"/>
<rect x="822" y="438" width="3" height="39" fill="#2962ff"/>
<rect x="823" y="439" width="1" height="38" fill="#0c35a8"/>
<rect x="829" y="434" width="1" height="23" fill="#5e35b1"/>
<rect x="828" y="438" width="3" height="15" fill="#5e35b1"/>
<rect x="829" y="439" width="1" height="13" fill="#fbfcff"/>
<rect x="834" y="439" width="1" height="29" fill="#2962ff"/>
<rect x="833" y="441" width="3" height="12" fill="#2962ff"/>
<rect x="834" y="442" width="1" height="11" fill="#0c35a8"/>
<rect x="839" y="441" width="1" height="38" fill="#5e35b1"/>
<rect x="838" y="441" width="3" height="38" fill="#5e35b1"/>
<rect x="839" y="442" width="1" height="36" fill="#fbfcff"/>
<rect x="844" y="453" width="1" height="31" fill="#2962ff"/>
<rect x="843" y="474" width="3" height="5" fill="#2962ff"/>
<rect x="844" y="475" width="1" height="4" fill="#0c35a8"/>
<rect x="849" y="453" width="1" height="42" fill="#5e35b1"/>
<rect x="848" y="473" width="3" height="22" fill="#5e35b1"/>
<rect x="849" y="474" width="1" height="20" fill="#fbfcff"/>
<rect x="854" y="488" width="1" height="65" fill="#5e35b1"/>
<rect x="853" y="495" width="3" height="58" fill="#5e35b1"/>
<rect x="854" y="496" width="1" height="56" fill="#fbfcff"/>
<rect x="859" y="498" width="1" height="56" fill="#2962ff"/>
<rect x="858" y="498" width="3" height="55" fill="#2962ff"/>
<rect x="859" y="499" width="1" height="54" fill="#0c35a8"/>
<rect x="864" y="459" width="1" height="61" fill="#2962ff"/>
<rect x="863" y="466" width="3" height="34" fill="#2962ff"/>
<rect x="864" y="467" width="1" height="33" fill="#0c35a8"/>
<rect x="869" y="445" width="1" height="41" fill="#2962ff"/>
<rect x="868" y="458" width="3" height="8" fill="#2962ff"/>
<rect x="869" y="459" width="1" height="7" fill="#0c35a8"/>
<rect x="874" y="453" width="1" height="56" fill="#5e35b1"/>
<rect x="873" y="459" width="3" height="46" fill="#5e35b1"/>
<rect x="874" y="460" width="1" height="44" fill="#fbfcff"/>
<rect x="879" y="413" width="1" height="92" fill="#2962ff"/>
<rect x="878" y="418" width="3" height="87" fill="#2962ff"/>
<rect x="879" y="419" width="1" height="86" fill="#0c35a8"/>
<rect x="884" y="383" width="1" height="50" fill="#2962ff"/>
<rect x="883" y="387" width="3" height="30" fill="#2962ff"/>
<rect x="884" y="388" width="1" height="29" fill="#0c35a8"/>
<rect x="889" y="387" width="1" height="31" fill="#5e35b1"/>
<rect x="888" y="387" width="3" height="20" fill="#5e35b1"/>
<rect x="889" y="388" width="1" height="18" fill="#fbfcff"/>
<rect x="894" y="341" width="1" height="69" fill="#2962ff"/>
<rect x="893" y="380" width="3" height="27" fill="#2962ff"/>
<rect x="894" y="381" width="1" height="26" fill="#0c35a8"/>
<rect x="899" y="362" width="1" height="25" fill="#2962ff"/>
<rect x="898" y="368" width="3" height="12" fill="#2962ff"/>
<rect x="899" y="369" width="1" height="11" fill="#0c35a8"/>
<rect x="904" y="358" width="1" height="47" fill="#5e35b1"/>
<rect x="903" y="369" width="3" height="13" fill="#5e35b1"/>
<rect x="904" y="370" width="1" height="11" fill="#fbfcff"/>
<rect x="909" y="360" width="1" height="22" fill="#2962ff"/>
<rect x="908" y="360" width="3" height="22" fill="#2962ff"/>
<rect x="909" y="361" width="1" height="21" fill="#0c35a8"/>
<rect x="914" y="371" width="1" height="30" fill="#5e35b1"/>
<rect x="913" y="375" width="3" height="16" fill="#5e35b1"/>
<rect x="914" y="376" width="1" height="14" fill="#fbfcff"/>
<rect x="919" y="371" width="1" height="20" fill="#2962ff"/>
<rect x="918" y="375" width="3" height="16" fill="#2962ff"/>
<rect x="919" y="376" width="1" height="15" fill="#0c35a8"/>
<rect x="924" y="328" width="1" height="49" fill="#2962ff"/>
<rect x="923" y="335" width="3" height="41" fill="#2962ff"/>
<rect x="924" y="336" width="1" height="40" fill="#0c35a8"/>
<rect x="929" y="310" width="1" height="26" fill="#2962ff"/>
<rect x="928" y="319" width="3" height="15" fill="#2962ff"/>
<rect x="929" y="320" width="1" height="14" fill="#0c35a8"/>
<rect x="934" y="317" width="1" height="17" fill="#5e35b1"/>
<rect x="933" y="319" width="3" height="15" fill="#5e35b1"/>
<rect x="934" y="320" width="1" height="13" fill="#fbfcff"/>
<rect x="939" y="319" width="1" height="43" fill="#5e35b1"/>
<rect x="938" y="325" width="3" height="32" fill="#5e35b1"/>
<rect x="939" y="326" width="1" height="30" fill="#fbfcff"/>
<rect x="944" y="332" width="1" height="28" fill="#5e35b1"/>
<rect x="943" y="357" width="3" height="3" fill="#5e35b1"/>
<rect x="944" y="358" width="1" height="1" fill="#fbfcff"/>
<rect x="949" y="326" width="1" height="46" fill="#2962ff"/>
<rect x="948" y="333" width="3" height="26" fill="#2962ff"/>
<rect x="949" y="334" width="1" height="25" fill="#0c35a8"/>
<rect x="954" y="272" width="1" height="62" fill="#2962ff"/>
<rect x="953" y="288" width="3" height="46" fill="#2962ff"/>
<rect x="954" y="289" width="1" height="45" fill="#0c35a8"/>
<rect x="959" y="275" width="1" height="40" fill="#2962ff"/>
<rect x="958" y="280" width="3" height="8" fill="#2962ff"/>
<rect x="959" y="281" width="1" height="7" fill="#0c35a8"/>
<rect x="964" y="264" width="1" height="44" fill="#5e35b1"/>
<rect x="963" y="280" width="3" height="21" fill="#5e35b1"/>
<rect x="964" y="281" width="1" height="19" fill="#fbfcff"/>
<rect x="969" y="282" width="1" height="33" fill="#5e35b1"/>
<rect x="968" y="301" width="3" height="14" fill="#5e35b1"/>
<rect x="969" y="302" width="1" height="12" fill="#fbfcff"/>
<rect x="974" y="291" width="1" height="31" fill="#2962ff"/>
<rect x="973" y="298" width="3" height="17" fill="#2962ff"/>
<rect x="974" y="299" width="1" height="16" fill="#0c35a8"/>
<rect x="979" y="287" width="1" height="23" fill="#2962ff"/>
<rect x="978" y="292" width="3" height="7" fill="#2962ff"/>
<rect x="979" y="293" width="1" height="6" fill="#0c35a8"/>
<rect x="984" y="269" width="1" height="29" fill="#2962ff"/>
<rect x="983" y="283" width="3" height="9" fill="#2962ff"/>
<rect x="984" y="284" width="1" height="8" fill="#0c35a8"/>
<rect x="989" y="275" width="1" height="22" fill="#2962ff"/>
<rect x="988" y="281" width="3" height="2" fill="#2962ff"/>
<rect x="989" y="282" width="1" height="1" fill="#0c35a8"/>
<rect x="994" y="240" width="1" height="47" fill="#2962ff"/>
<rect x="993" y="259" width="3" height="22" fill="#2962ff"/>
<rect x="994" y="260" width="1" height="21" fill="#0c35a8"/>
<rect x="999" y="239" width="1" height="25" fill="#2962ff"/>
<rect x="998" y="245" width="3" height="15" fill="#2962ff"/>
<rect x="999" y="246" width="1" height="14" fill="#0c35a8"/>
<rect x="1004" y="243" width="1" height="67" fill="#5e35b1"/>
<rect x="1003" y="245" width="3" height="59" fill="#5e35b1"/>
<rect x="1004" y="246" width="1" height="57" fill="#fbfcff"/>
<rect x="1009" y="293" width="1" height="25" fill="#5e35b1"/>
<rect x="1008" y="305" width="3" height="9" fill="#5e35b1"/>
<rect x="1009" y="306" width="1" height="7" fill="#fbfcff"/>
<rect x="1014" y="289" width="1" height="29" fill="#2962ff"/>
<rect x="1013" y="312" width="3" height="2" fill="#2962ff"/>
<rect x="1014" y="313" width="1" height="1" fill="#0c35a8"/>
<rect x="1019" y="293" width="1" height="34" fill="#2962ff"/>
<rect x="1018" y="302" width="3" height="9" fill="#2962ff"/>
<rect x="1019" y="303" width="1" height="8" fill="#0c35a8"/>
<rect x="1024" y="301" width="1" height="33" fill="#5e35b1"/>
<rect x="1023" y="302" width="3" height="25" fill="#5e35b1"/>
<rect x="1024" y="303" width="1" height="23" fill="#fbfcff"/>
<rect x="1029" y="312" width="1" height="36" fill="#5e35b1"/>
<rect x="1028" y="327" width="3" height="11" fill="#5e35b1"/>
<rect x="1029" y="328" width="1" height="9" fill="#fbfcff"/>
<rect x="1034" y="326" width="1" height="17" fill="#2962ff"/>
<rect x="1033" y="335" width="3" height="3" fill="#2962ff"/>
<rect x="1034" y="336" width="1" height="2" fill="#0c35a8"/>
<rect x="1039" y="328" width="1" height="7" fill="#2962ff"/>
<rect x="1038" y="332" width="3" height="3" fill="#2962ff"/>
<rect x="1039" y="333" width="1" height="2" fill="#0c35a8"/>
<rect x="1044" y="320" width="1" height="27" fill="#5e35b1"/>
<rect x="1043" y="332" width="3" height="7" fill="#5e35b1"/>
<rect x="1044" y="333" width="1" height="5" fill="#fbfcff"/>
<rect x="1049" y="317" width="1" height="30" fill="#5e35b1"/>
<rect x="1048" y="340" width="3" height="4" fill="#5e35b1"/>
<rect x="1049" y="341" width="1" height="2" fill="#fbfcff"/>
<rect x="1054" y="328" width="1" height="15" fill="#2962ff"/>
<rect x="1053" y="334" width="3" height="9" fill="#2962ff"/>
<rect x="1054" y="335" width="1" height="8" fill="#0c35a8"/>
<rect x="1060" y="321" width="1" height="24" fill="#2962ff"/>
<rect x="1059" y="327" width="3" height="7" fill="#2962ff"/>
<rect x="1060" y="328" width="1" height="6" fill="#0c35a8"/>
<rect x="1065" y="322" width="1" height="17" fill="#5e35b1"/>
<rect x="1064" y="328" width="3" height="9" fill="#5e35b1"/>
<rect x="1065" y="329" width="1" height="7" fill="#fbfcff"/>
<rect x="1070" y="327" width="1" height="45" fill="#5e35b1"/>
<rect x="1069" y="337" width="3" height="20" fill="#5e35b1"/>
<rect x="1070" y="338" width="1" height="18" fill="#fbfcff"/>
<rect x="1075" y="326" width="1" height="32" fill="#2962ff"/>
<rect x="1074" y="334" width="3" height="23" fill="#2962ff"/>
<rect x="1075" y="335" width="1" height="22" fill="#0c35a8"/>
<rect x="1080" y="329" width="1" height="49" fill="#5e35b1"/>
<rect x="1079" y="334" width="3" height="35" fill="#5e35b1"/>
<rect x="1080" y="335" width="1" height="33" fill="#fbfcff"/>
<rect x="1085" y="323" width="1" height="63" fill="#2962ff"/>
<rect x="1084" y="325" width="3" height="44" fill="#2962ff"/>
<rect x="1085" y="326" width="1" height="43" fill="#0c35a8"/>
<rect x="1090" y="296" width="1" height="31" fill="#2962ff"/>
<rect x="1089" y="303" width="3" height="22" fill="#2962ff"/>
<rect x="1090" y="304" width="1" height="21" fill="#0c35a8"/>
<rect x="1095" y="299" width="1" height="22" fill="#5e35b1"/>
<rect x="1094" y="303" width="3" height="8" fill="#5e35b1"/>
<rect x="1095" y="304" width="1" height="6" fill="#fbfcff"/>
<rect x="1100" y="304" width="1" height="19" fill="#5e35b1"/>
<rect x="1099" y="311" width="3" height="1" fill="#5e35b1"/>
<rect x="1105" y="288" width="1" height="38" fill="#2962ff"/>
<rect x="1104" y="296" width="3" height="16" fill="#2962ff"/>
<rect x="1105" y="297" width="1" height="15" fill="#0c35a8"/>
<rect x="1110" y="287" width="1" height="25" fill="#5e35b1"/>
<rect x="1109" y="296" width="3" height="16" fill="#5e35b1"/>
<rect x="1110" y="297" width="1" height="14" fill="#fbfcff"/>
<rect x="1115" y="277" width="1" height="35" fill="#2962ff"/>
<rect x="1114" y="300" width="3" height="12" fill="#2962ff"/>
<rect x="1115" y="301" width="1" height="11" fill="#0c35a8"/>
<rect x="1120" y="274" width="1" height="32" fill="#2962ff"/>
<rect x="1119" y="278" width="3" height="23" fill="#2962ff"/>
<rect x="1120" y="279" width="1" height="22" fill="#0c35a8"/>
<rect x="1125" y="242" width="1" height="44" fill="#2962ff"/>
<rect x="1124" y="263" width="3" height="15" fill="#2962ff"/>
<rect x="1125" y="264" width="1" height="14" fill="#0c35a8"/>
<rect x="1130" y="251" width="1" height="20" fill="#2962ff"/>
<rect x="1129" y="253" width="3" height="11" fill="#2962ff"/>
<rect x="1130" y="254" width="1" height="10" fill="#0c35a8"/>
<rect x="1135" y="249" width="1" height="17" fill="#2962ff"/>
<rect x="1134" y="251" width="3" height="2" fill="#2962ff"/>
<rect x="1135" y="252" width="1" height="1" fill="#0c35a8"/>
<rect x="1140" y="239" width="1" height="30" fill="#5e35b1"/>
<rect x="1139" y="251" width="3" height="5" fill="#5e35b1"/>
<rect x="1140" y="252" width="1" height="3" fill="#fbfcff"/>
<rect x="1145" y="247" width="1" height="37" fill="#5e35b1"/>
<rect x="1144" y="257" width="3" height="9" fill="#5e35b1"/>
<rect x="1145" y="258" width="1" height="7" fill="#fbfcff"/>
<rect x="1150" y="249" width="1" height="30" fill="#2962ff"/>
<rect x="1149" y="250" width="3" height="15" fill="#2962ff"/>
<rect x="1150" y="251" width="1" height="14" fill="#0c35a8"/>
<rect x="1155" y="243" width="1" height="21" fill="#2962ff"/>
<rect x="1154" y="248" width="3" height="2" fill="#2962ff"/>
<rect x="1155" y="249" width="1" height="1" fill="#0c35a8"/>
<rect x="1160" y="246" width="1" height="18" fill="#5e35b1"/>
<rect x="1159" y="248" width="3" height="3" fill="#5e35b1"/>
<rect x="1160" y="249" width="1" height="1" fill="#fbfcff"/>
<rect x="1165" y="246" width="1" height="20" fill="#2962ff"/>
<rect x="1164" y="262" width="3" height="3" fill="#2962ff"/>
<rect x="1165" y="263" width="1" height="2" fill="#0c35a8"/>
<rect x="1170" y="257" width="1" height="21" fill="#5e35b1"/>
<rect x="1169" y="262" width="3" height="9" fill="#5e35b1"/>
<rect x="1170" y="263" width="1" height="7" fill="#fbfcff"/>
<rect x="1175" y="252" width="1" height="29" fill="#2962ff"/>
<rect x="1174" y="257" width="3" height="14" fill="#2962ff"/>
<rect x="1175" y="258" width="1" height="13" fill="#0c35a8"/>
<rect x="1180" y="250" width="1" height="44" fill="#5e35b1"/>
<rect x="1179" y="258" width="3" height="36" fill="#5e35b1"/>
<rect x="1180" y="259" width="1" height="34" fill="#fbfcff"/>
<rect x="1185" y="283" width="1" height="53" fill="#5e35b1"/>
<rect x="1184" y="293" width="3" height="43" fill="#5e35b1"/>
<rect x="1185" y="294" width="1" height="41" fill="#fbfcff"/>
<rect x="1190" y="329" width="1" height="17" fill="#5e35b1"/>
<rect x="1189" y="335" width="3" height="9" fill="#5e35b1"/>
<rect x="1190" y="336" width="1" height="7" fill="#fbfcff"/>
<rect x="1195" y="324" width="1" height="33" fill="#2962ff"/>
<rect x="1194" y="337" width="3" height="7" fill="#2962ff"/>
<rect x="1195" y="338" width="1" height="6" fill="#0c35a8"/>
<rect x="1200" y="321" width="1" height="16" fill="#2962ff"/>
<rect x="1199" y="330" width="3" height="7" fill="#2962ff"/>
<rect x="1200" y="331" width="1" height="6" fill="#0c35a8"/>
<rect x="1205" y="300" width="1" height="34" fill="#2962ff"/>
<rect x="1204" y="318" width="3" height="12" fill="#2962ff"/>
<rect x="1205" y="319" width="1" height="11" fill="#0c35a8"/>
<rect x="1210" y="314" width="1" height="22" fill="#5e35b1"/>
<rect x="1209" y="319" width="3" height="15" fill="#5e35b1"/>
<rect x="1210" y="320" width="1" height="13" fill="#fbfcff"/>
<rect x="1215" y="311" width="1" height="29" fill="#2962ff"/>
<rect x="1214" y="313" width="3" height="21" fill="#2962ff"/>
<rect x="1215" y="314" width="1" height="20" fill="#0c35a8"/>
<rect x="1220" y="282" width="1" height="36" fill="#2962ff"/>
<rect x="1219" y="306" width="3" height="8" fill="#2962ff"/>
<rect x="1220" y="307" width="1" height="7" fill="#0c35a8"/>
<rect x="1225" y="303" width="1" height="47" fill="#5e35b1"/>
<rect x="1224" y="306" width="3" height="33" fill="#5e35b1"/>
<rect x="1225" y="307" width="1" height="31" fill="#fbfcff"/>
<rect x="1230" y="329" width="1" height="27" fill="#5e35b1"/>
<rect x="1229" y="339" width="3" height="11" fill="#5e35b1"/>
<rect x="1230" y="340" width="1" height="9" fill="#fbfcff"/>
<rect x="1235" y="336" width="1" height="32" fill="#2962ff"/>
<rect x="1234" y="338" width="3" height="12" fill="#2962ff"/>
<rect x="1235" y="339" width="1" height="11" fill="#0c35a8"/>
<rect x="1240" y="334" width="1" height="10" fill="#2962ff"/>
<rect x="1239" y="337" width="3" height="2" fill="#2962ff"/>
<rect x="1240" y="338" width="1" height="1" fill="#0c35a8"/>
<rect x="1245" y="312" width="1" height="39" fill="#2962ff"/>
<rect x="1244" y="320" width="3" height="17" fill="#2962ff"/>
<rect x="1245" y="321" width="1" height="16" fill="#0c35a8"/>
<rect x="1250" y="315" width="1" height="24" fill="#5e35b1"/>
<rect x="1249" y="320" width="3" height="16" fill="#5e35b1"/>
<rect x="1250" y="321" width="1" height="14" fill="#fbfcff"/>
<rect x="1255" y="329" width="1" height="20" fill="#5e35b1"/>
<rect x="1254" y="336" width="3" height="8" fill="#5e35b1"/>
<rect x="1255" y="337" width="1" height="6" fill="#fbfcff"/>
<rect x="1260" y="337" width="1" height="28" fill="#5e35b1"/>
<rect x="1259" y="345" width="3" height="18" fill="#5e35b1"/>
<rect x="1260" y="346" width="1" height="16" fill="#fbfcff"/>
<rect x="1265" y="331" width="1" height="35" fill="#2962ff"/>
<rect x="1264" y="332" width="3" height="31" fill="#2962ff"/>
<rect x="1265" y="333" width="1" height="30" fill="#0c35a8"/>
<rect x="1270" y="313" width="1" height="30" fill="#5e35b1"/>
<rect x="1269" y="332" width="3" height="11" fill="#5e35b1"/>
<rect x="1270" y="333" width="1" height="9" fill="#fbfcff"/>
<rect x="1275" y="326" width="1" height="30" fill="#2962ff"/>
<rect x="1274" y="341" width="3" height="2" fill="#2962ff"/>
<rect x="1275" y="342" width="1" height="1" fill="#0c35a8"/>
<rect x="1280" y="339" width="1" height="27" fill="#5e35b1"/>
<rect x="1279" y="340" width="3" height="20" fill="#5e35b1"/>
<rect x="1280" y="341" width="1" height="18" fill="#fbfcff"/>
<rect x="1285" y="336" width="1" height="25" fill="#2962ff"/>
<rect x="1284" y="337" width="3" height="24" fill="#2962ff"/>
<rect x="1285" y="338" width="1" height="23" fill="#0c35a8"/>
<rect x="1291" y="336" width="1" height="13" fill="#5e35b1"/>
<rect x="1290" y="337" width="3" height="4" fill="#5e35b1"/>
<rect x="1291" y="338" width="1" height="2" fill="#fbfcff"/>
<rect x="1296" y="332" width="1" height="59" fill="#5e35b1"/>
<rect x="1295" y="342" width="3" height="49" fill="#5e35b1"/>
<rect x="1296" y="343" width="1" height="47" fill="#fbfcff"/>
<rect x="1301" y="382" width="1" height="13" fill="#2962ff"/>
<rect x="1300" y="385" width="3" height="6" fill="#2962ff"/>
<rect x="1301" y="386" width="1" height="5" fill="#0c35a8"/>
<rect x="1306" y="362" width="1" height="26" fill="#2962ff"/>
<rect x="1305" y="366" width="3" height="19" fill="#2962ff"/>
<rect x="1306" y="367" width="1" height="18" fill="#0c35a8"/>
<rect x="1311" y="320" width="1" height="50" fill="#2962ff"/>
<rect x="1310" y="342" width="3" height="24" fill="#2962ff"/>
<rect x="1311" y="343" width="1" height="23" fill="#0c35a8"/>
</svg>
<div id="title" style="position:absolute;left:0;top:1px;font-size:16px;height:20px;width:330px">
<span class="t" style="left:2.30px;top:0;letter-spacing:0.183px">British</span>
<span class="t" style="left:53.10px;top:0;letter-spacing:-0.575px">Pound</span>
<span class="t" style="left:102.90px;top:0;letter-spacing:0.000px">/</span>
<span class="t" style="left:114.30px;top:0;letter-spacing:-0.367px">U.S.</span>
<span class="t" style="left:148.60px;top:0;letter-spacing:0.240px">Dollar</span>
<span class="t" style="left:194.80px;top:0;letter-spacing:0.000px;font-weight:bold;font-size:18px;top:-1.5px">·</span>
<span class="t" style="left:203.70px;top:0;letter-spacing:-1.300px">1D</span>
<span class="t" style="left:225.10px;top:0;letter-spacing:0.000px;font-weight:bold;font-size:18px;top:-1.5px">·</span>
<span class="t" style="left:233.70px;top:0;letter-spacing:-0.938px">FOREX.com</span>
</div>
<div style="position:absolute;left:0;top:23px;width:98px;height:22px;background:rgba(234,241,249,0.55)"></div>
<div style="position:absolute;left:0;top:45px;width:52px;height:47px;background:rgba(234,241,249,0.55)"></div>
<div class="t lg" style="left:3px;top:26px">Watermark</div>
<div class="t lg lg2" style="left:3px;top:50.500px">MA</div>
<div class="t lg lg2" style="left:3px;top:74.500px">MA</div>
<svg style="position:absolute;left:76px;top:25px" width="18" height="14" viewBox="0 0 18 14" fill="none" stroke="#1e222d" stroke-width="1.1" stroke-linecap="round"><path d="M1 7C3 3.500 6 1.200 9 1.200s6 2.300 8 5.800C15 10.500 12 12.800 9 12.800S3 10.500 1 7z"/><circle cx="9" cy="6.900" r="2.700"/><path d="M3.200 12.800L14.800 0.800"/></svg>
<svg style="position:absolute;left:29px;top:49px" width="18" height="14" viewBox="0 0 18 14" fill="none" stroke="#1e222d" stroke-width="1.1" stroke-linecap="round"><path d="M1 7C3 3.500 6 1.200 9 1.200s6 2.300 8 5.800C15 10.500 12 12.800 9 12.800S3 10.500 1 7z"/><circle cx="9" cy="6.900" r="2.700"/><path d="M3.200 12.800L14.800 0.800"/></svg>
<svg style="position:absolute;left:29px;top:73px" width="18" height="14" viewBox="0 0 18 14" fill="none" stroke="#1e222d" stroke-width="1.1" stroke-linecap="round"><path d="M1 7C3 3.500 6 1.200 9 1.200s6 2.300 8 5.800C15 10.500 12 12.800 9 12.800S3 10.500 1 7z"/><circle cx="9" cy="6.900" r="2.700"/><path d="M3.200 12.800L14.800 0.800"/></svg>
<div style="position:absolute;left:3px;top:94px;width:27px;height:19px;border:1px solid #d5d9e2;border-radius:3px;background:rgba(236,242,250,0.85)"></div>
<svg style="position:absolute;left:12px;top:100px" width="12" height="8" viewBox="0 0 12 8" fill="none" stroke="#131722" stroke-width="1.4"><path d="M1.700 6.300L5.800 2.300l4.100 4"/></svg>
<div class="t fib" style="top:9px">0.764(1.33278)</div>
<div class="t fib" style="top:147px">0.618(1.27575)</div>
<div class="t fib" style="top:259px">0.5(1.22967)</div>
<div class="t fib" style="top:371px">0.382(1.18358)</div>
<div class="t fib" style="top:510px">0.236(1.12655)</div>
<div class="t fib" style="top:597px">0.144(1.09061)</div>
<div class="t fib" style="top:734px">0(1.03437)</div>
<div class="t ax" style="top:1.6px">1.34000</div>
<div class="t ax" style="top:50.1px">1.32000</div>
<div class="t ax" style="top:98.7px">1.30000</div>
<div class="t ax" style="top:147.3px">1.28000</div>
<div class="t ax" style="top:195.9px">1.26000</div>
<div class="t ax" style="top:244.5px">1.24000</div>
<div class="t ax" style="top:293.1px">1.22000</div>
<div class="t ax" style="top:341.7px">1.20000</div>
<div class="t ax" style="top:390.3px">1.18000</div>
<div class="t ax" style="top:438.9px">1.16000</div>
<div class="t ax" style="top:487.5px">1.14000</div>
<div class="t ax" style="top:536.0px">1.12000</div>
<div class="t ax" style="top:584.6px">1.10000</div>
<div class="t ax" style="top:633.2px">1.08000</div>
<div class="t ax" style="top:681.8px">1.06000</div>
<div class="t ax" style="top:730.4px">1.04000</div>
<div class="t ax" style="top:779.0px">1.02000</div>
<div class="lab" style="top:214px;background:#7b1fa2">1.25000</div>
<div class="lab" style="top:231px;background:#000">1.24467</div>
<div class="lab" style="top:276px;background:#f23645">1.22634</div>
<div class="lab" style="top:315px;background:#000">1.21000</div>
<div class="lab" style="top:340px;background:#0c2d9c">1.20000</div>
<div class="t tm" style="left:80px">Apr</div>
<div class="t tm" style="left:185px">May</div>
<div class="t tm" style="left:295px">Jun</div>
<div class="t tm" style="left:406px">Jul</div>
<div class="t tm" style="left:512px">Aug</div>
<div class="t tm" style="left:627px">Sep</div>
<div class="t tm" style="left:738px">Oct</div>
<div class="t tm" style="left:843px">Nov</div>
<div class="t tm" style="left:953px">Dec</div>
<div class="t tm" style="left:1064px;font-weight:bold">2023</div>
<div class="t tm" style="left:1175px">Feb</div>
<div class="t tm" style="left:1275px">Mar</div>
<div class="t tm" style="left:1391px">Apr</div>
<div class="t tm" style="left:1491px">May</div>
<div class="t tm" style="left:1607px">Jun</div>
<svg style="position:absolute;left:0px;top:752px" width="50" height="33" viewBox="0 752 50 33"><g fill="#131722" stroke="#fff" stroke-width="3.4" stroke-linejoin="round" paint-order="stroke"><path d="M6.100 762H17.900V776.700H12.150V767.800H6.100z"/><circle cx="23" cy="764.950" r="2.850"/><path d="M29.350 762H35.800L29.750 776.700H23.100z"/></g></svg>
<svg style="position:absolute;left:1665.500px;top:796.500px" width="18" height="18" viewBox="0 0 18 18" fill="none" stroke="#131722" stroke-width="1.2" stroke-linecap="round"><circle cx="9" cy="9" r="4.900"/><path d="M14.40 9.00L16.60 9.00M12.82 12.82L13.88 13.88M9.00 14.40L9.00 16.60M5.18 12.82L4.12 13.88M3.60 9.00L1.40 9.00M5.18 5.18L4.12 4.12M9.00 3.60L9.00 1.40M12.82 5.18L13.88 4.12"/></svg>
</body></html>
